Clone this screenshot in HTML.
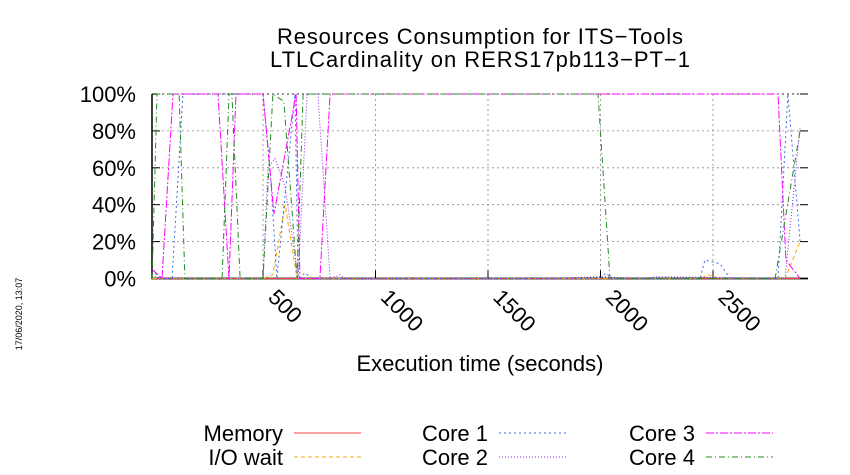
<!DOCTYPE html>
<html><head><meta charset="utf-8"><style>
body{margin:0;background:#fff;}
svg{display:block;font-family:"Liberation Sans",sans-serif;}
</style></head><body>
<svg id="chart" width="850" height="475" viewBox="0 0 850 475">
<text x="480" y="44" font-size="22" text-anchor="middle" textLength="406">Resources Consumption for ITS−Tools</text>
<text x="480" y="67" font-size="22" text-anchor="middle" textLength="420">LTLCardinality on RERS17pb113−PT−1</text>
<text transform="translate(22,314) rotate(-90)" font-size="9" text-anchor="middle">17/06/2020, 13:07</text>
<text x="480" y="371" font-size="22" text-anchor="middle">Execution time (seconds)</text>
<g id="grid"></g>
<g id="axes"></g>
<g id="series"></g>
<g id="legend"></g>
</svg>
<script>
const xTicks = [500, 1000, 1500, 2000, 2500];
const yTicks = [0, 20, 40, 60, 80, 100];
const memT = [7, 2887];
const memV = [0, 0];
const ioT = [7, 500, 544, 598, 651, 2442, 2480, 2531, 2776, 2820, 2887];
const ioV = [0, 0, 2, 40, 0, 0, 2, 0, 0, 0, 20];
const c1T = [7, 42, 96, 144, 500, 531, 562, 642, 656, 687, 720, 1998, 2024, 2051, 2442, 2464, 2531, 2576, 2789, 2833, 2887];
const c1V = [5, 0, 0, 100, 100, 60, 0, 100, 0, 3, 0, 0, 3, 0, 0, 10, 8, 0, 0, 100, 20];
const c2T = [7, 42, 500, 522, 553, 598, 656, 696, 744, 798, 842, 864, 1750, 1998, 2190, 2250, 2820, 2887];
const c2V = [2, 0, 0, 60, 65, 50, 0, 100, 100, 0, 2, 0, 0, 1, 0, 1, 0, 82];
const c3T = [7, 51, 100, 300, 349, 380, 500, 549, 647, 664, 753, 798, 2789, 2824, 2887];
const c3V = [5, 0, 100, 100, 0, 100, 100, 35, 100, 0, 0, 100, 100, 10, 0];
const c4T = [7, 29, 127, 153, 318, 349, 362, 398, 500, 544, 593, 651, 678, 1989, 2042, 2776, 2887];
const c4V = [0, 100, 100, 0, 0, 100, 100, 0, 0, 100, 96, 0, 100, 100, 0, 0, 80];
const seriesNames = ["Memory", "I/O wait", "Core 1", "Core 2", "Core 3", "Core 4"];

const X0 = 152, X1 = 808, Y0 = 278.5, Y1 = 94;
const xs = t => 150.5 + t * 0.225;
const ys = v => Y0 - (v / 100) * (Y0 - Y1);
const NS = "http://www.w3.org/2000/svg";
function mk(tag, attrs, parent) {
  const e = document.createElementNS(NS, tag);
  for (const k in attrs) e.setAttribute(k, attrs[k]);
  parent.appendChild(e);
  return e;
}
const grid = document.getElementById('grid');
const axes = document.getElementById('axes');
yTicks.forEach(v => {
  if (v > 0) {
    const g = mk('line', {x1: X0, x2: X1, y1: ys(v), y2: ys(v), stroke: '#888', 'stroke-width': 0.8, 'stroke-dasharray': '2,3'}, grid);
    
    
  }
  const t = mk('text', {x: 136, y: ys(v) + 8, 'font-size': 22, 'text-anchor': 'end'}, axes);
  t.textContent = v + '%';
  
  
  mk('line', {x1: X0, x2: X0 + 8, y1: ys(v), y2: ys(v), stroke: '#000', 'stroke-width': 1}, axes);
  mk('line', {x1: X1 - 8, x2: X1, y1: ys(v), y2: ys(v), stroke: '#000', 'stroke-width': 1}, axes);
});
xTicks.forEach(v => {
  const x = xs(v);
  const g = mk('line', {x1: x, x2: x, y1: Y1, y2: Y0, stroke: '#888', 'stroke-width': 0.8, 'stroke-dasharray': '2,3'}, grid);
  
  
  mk('line', {x1: x, x2: x, y1: Y0 - 8, y2: Y0, stroke: '#000', 'stroke-width': 1}, axes);
  const t = mk('text', {transform: `translate(${x + 4},${Y0 + 20}) rotate(45)`, 'font-size': 22, 'text-anchor': 'start'}, axes);
  t.textContent = v;
  
  
});
mk('polyline', {points: `${X0},${Y1} ${X0},${Y0} ${X1},${Y0}`, fill: 'none', stroke: '#000', 'stroke-width': 1.5}, axes);
mk('line', {x1: X0, x2: X1, y1: Y1, y2: Y1, stroke: '#000', 'stroke-width': 0.8, 'stroke-dasharray': '2,3'}, axes);

const styles = [
  {c: '#ff4040', d: ''},
  {c: '#ffa500', d: '4,3'},
  {c: '#4169e1', d: '2,3'},
  {c: '#8a2be2', d: '1,2'},
  {c: '#ff00ff', d: '8,2,2,2'},
  {c: '#228b22', d: '6,3,1,3'}
];
const data = [[memT, memV], [ioT, ioV], [c1T, c1V], [c2T, c2V], [c3T, c3V], [c4T, c4V]];
const ser = document.getElementById('series');
const ids = ['memory', 'io-wait', 'core-1', 'core-2', 'core-3', 'core-4'];
data.forEach((d, i) => {
  const pts = d[0].map((t, j) => xs(t).toFixed(1) + ',' + ys(d[1][j]).toFixed(1)).join(' ');
  const p = mk('polyline', {points: pts, fill: 'none', stroke: styles[i].c, 'stroke-width': 1, 'stroke-dasharray': styles[i].d}, ser);
  
  
});
mk('line', {x1: X0, x2: X1, y1: Y0, y2: Y0, stroke: '#000', 'stroke-width': 1.5}, axes);
const leg = document.getElementById('legend');
const lpos = [[283, 441], [283, 465], [488, 441], [488, 465], [695, 441], [695, 465]];
seriesNames.forEach((n, i) => {
  const [x, y] = lpos[i];
  const t = mk('text', {x: x, y: y, 'font-size': 22, 'text-anchor': 'end'}, leg);
  t.textContent = n;
  
  
  const l = mk('line', {x1: x + 11, x2: x + 78, y1: y - 8, y2: y - 8, stroke: styles[i].c, 'stroke-width': 1, 'stroke-dasharray': styles[i].d}, leg);
  
  
});
</script>
</body></html>
